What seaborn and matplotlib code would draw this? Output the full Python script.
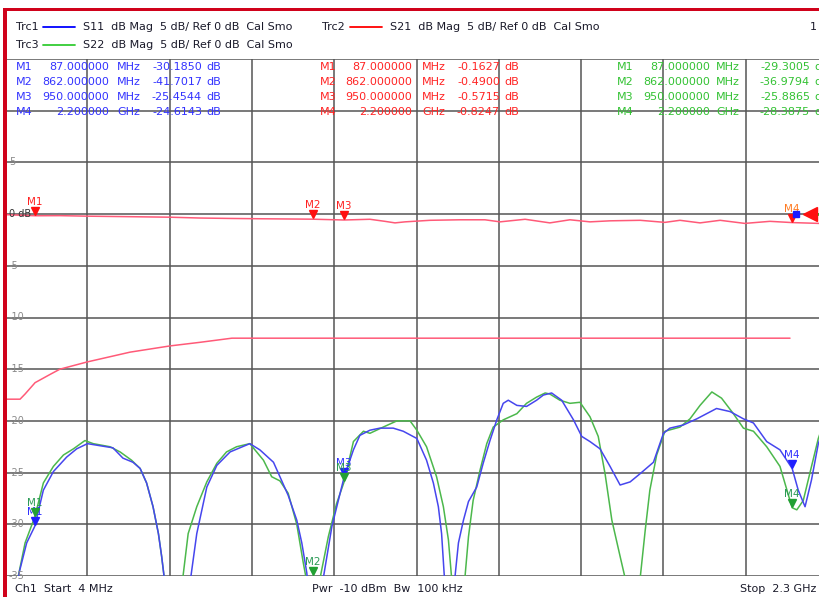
import numpy as np
import pandas as pd
import matplotlib
matplotlib.use("Agg")
import matplotlib.pyplot as plt
import seaborn as sns
from matplotlib.transforms import offset_copy, blended_transform_factory
from matplotlib.patches import Rectangle

# ---------------- data (MHz, dB) ----------------
s21_freq = [4, 88, 157, 233, 353, 464, 548, 632, 715, 860, 950, 1022, 1064, 1092, 1120,
            1190, 1273, 1343, 1385, 1455, 1524, 1580, 1636, 1692, 1776, 1845, 1887,
            1943, 1999, 2068, 2138, 2200, 2275, 2300]
s21_db = [-0.05, -0.16, -0.15, -0.2, -0.25, -0.3, -0.38, -0.42, -0.45, -0.49, -0.57, -0.5,
          -0.7, -0.85, -0.75, -0.6, -0.55, -0.55, -0.75, -0.5, -0.85, -0.55, -0.75, -0.65,
          -0.6, -0.8, -0.6, -0.85, -0.6, -0.9, -0.7, -0.82, -0.9, -0.85]

s21mem_freq = [4, 46, 60, 88, 130, 157, 233, 353, 464, 548, 637, 2194]
s21mem_db = [-17.9, -17.9, -17.4, -16.3, -15.5, -15.0, -14.3, -13.35, -12.75, -12.4, -12.0, -12.0]

s11_freq = [4, 30, 44, 64.5, 87, 111, 139, 176, 204, 234, 269, 305, 333, 361, 381, 399, 417,
            432, 441, 448, 460, 475, 500, 515, 522, 539, 567, 595, 632, 687, 715, 753, 771,
            794, 818, 832, 846, 862, 883, 892, 916, 950, 976, 994, 1022, 1050, 1087, 1115,
            1153, 1180, 1199, 1213, 1222, 1229, 1240, 1250, 1259, 1269, 1283, 1297, 1320,
            1338, 1357, 1376, 1394, 1408, 1432, 1459, 1487, 1506, 1529, 1557, 1590, 1613,
            1636, 1664, 1692, 1720, 1748, 1776, 1813, 1841, 1859, 1896, 1934, 1989, 2027,
            2064, 2092, 2129, 2166, 2200, 2217, 2236, 2254, 2273, 2300]
s11_db = [-40, -37.5, -34.6, -31.8, -30.2, -26.7, -24.9, -23.5, -22.7, -22.2, -22.4, -22.6,
          -23.6, -24.0, -24.6, -26.0, -28.3, -30.9, -33.1, -35.1, -40, -45, -40, -36.5, -35.2,
          -30.9, -26.4, -24.3, -23.0, -22.2, -22.8, -24.0, -25.4, -27.2, -29.6, -31.8, -34.7,
          -41.7, -38, -35.2, -30.2, -25.45, -22.8, -21.4, -20.9, -20.7, -20.7, -21.0, -21.7,
          -23.8, -26.0, -28.3, -30.9, -34.7, -40, -42, -35.2, -31.8, -29.6, -27.8, -26.4,
          -24.1, -21.9, -19.9, -18.3, -18.0, -18.5, -18.6, -18.0, -17.5, -17.3, -18.0,
          -19.9, -21.5, -22.0, -22.7, -24.4, -26.2, -25.9, -25.1, -24.0, -21.2, -20.7,
          -20.4, -19.8, -18.8, -19.1, -19.8, -20.2, -22.0, -22.8, -24.6, -26.7, -28.3,
          -25.7, -22.2, -19.5]

s22_freq = [4, 30, 40, 60, 87, 111, 139, 167, 195, 227, 250, 297, 325, 357, 381, 399, 417,
            432, 441, 448, 470, 495, 500, 515, 539, 567, 595, 622, 650, 687, 725, 748, 771,
            794, 818, 836, 844, 862, 883, 906, 929, 950, 976, 1004, 1022, 1059, 1097, 1134,
            1153, 1180, 1208, 1227, 1241, 1250, 1270, 1287, 1297, 1310, 1329, 1348, 1366,
            1394, 1432, 1459, 1487, 1511, 1524, 1552, 1580, 1608, 1636, 1659, 1678, 1697,
            1720, 1734, 1755, 1776, 1790, 1803, 1822, 1845, 1887, 1915, 1943, 1976, 2003,
            2036, 2064, 2092, 2129, 2166, 2194, 2200, 2213, 2231, 2254, 2273, 2300]
s22_db = [-40, -37.5, -35.2, -31.8, -29.3, -26.0, -24.4, -23.3, -22.7, -21.9, -22.2, -22.5,
          -23.0, -23.8, -24.6, -26.0, -28.3, -30.9, -33.1, -35.1, -44, -38, -35.2, -30.9,
          -28.3, -25.9, -24.1, -23.0, -22.5, -22.2, -23.8, -25.4, -25.8, -27.0, -30.0,
          -33.7, -35.2, -37.0, -35.2, -31.2, -28.0, -25.9, -22.0, -21.0, -21.2, -20.6,
          -20.0, -20.0, -20.9, -22.5, -25.4, -28.3, -31.5, -35.2, -42, -35.2, -31.2, -27.7,
          -24.8, -22.2, -20.6, -19.9, -19.3, -18.3, -17.7, -17.3, -17.4, -18.0, -18.3,
          -18.2, -19.6, -21.5, -25.1, -29.6, -33.1, -35.2, -42, -35.2, -30.6, -26.7, -23.3,
          -21.0, -20.6, -19.8, -18.5, -17.2, -17.8, -19.3, -20.7, -21.0, -22.5, -24.4,
          -27.7, -28.4, -28.6, -27.7, -24.4, -21.7, -19.0]

marker_names = ["M1", "M2", "M3", "M4"]
marker_freq = [87, 862, 950, 2200]
s11_marker_db = [-30.1850, -41.7017, -25.4544, -24.6143]
s21_marker_db = [-0.1627, -0.4900, -0.5715, -0.8247]
s22_marker_db = [-29.3005, -36.9794, -25.8865, -28.3875]

y_ticks = [15, 10, 5, 0, -5, -10, -15, -20, -25, -30, -35]
y_labels = ["", "", "5", "0 dB", "-5", "-10", "-15", "-20", "-25", "-30", "-35"]

start_mhz, stop_mhz = 4, 2300

# ---------------- styling ----------------
sns.set_theme(style="white")
plt.rcParams['font.family'] = ['DejaVu Sans']

W, H = 819, 597
fig = plt.figure(figsize=(W / 100, H / 100), dpi=100)
fig.patch.set_facecolor("white")

# plot area in pixels: x 5..828, y 59..576
ax = fig.add_axes([5 / W, 1 - 576 / H, 823 / W, (576 - 59) / H])
ax.set_xlim(start_mhz, stop_mhz)
ax.set_ylim(-35, 15)
ax.set_facecolor("white")
for s in ax.spines.values():
    s.set_visible(False)
ax.set_xticks(np.linspace(start_mhz, stop_mhz, 11))
ax.set_yticks(y_ticks)
ax.grid(True, color="#555555", linewidth=1.1)
ax.tick_params(left=False, bottom=False, labelleft=False, labelbottom=False)

C_BLUE = "#4646ee"
C_GREEN = "#4cb84c"
C_RED = "#ff5a78"

df = pd.concat([
    pd.DataFrame({"freq": s21mem_freq, "db": s21mem_db, "trace": "S21 mem"}),
    pd.DataFrame({"freq": s21_freq, "db": s21_db, "trace": "S21"}),
    pd.DataFrame({"freq": s22_freq, "db": s22_db, "trace": "S22"}),
    pd.DataFrame({"freq": s11_freq, "db": s11_db, "trace": "S11"}),
])
palette = {"S21 mem": C_RED, "S21": C_RED, "S22": C_GREEN, "S11": C_BLUE}
sns.lineplot(data=df, x="freq", y="db", hue="trace", palette=palette,
             estimator=None, sort=False, legend=False, linewidth=1.1, ax=ax)
ax.set_xlabel("")
ax.set_ylabel("")

# y labels inside the grid
btr = blended_transform_factory(ax.transAxes, ax.transData)
for v, lab in zip(y_ticks, y_labels):
    if not lab:
        continue
    col = "#333333" if v == 0 else "#8a8a8a"
    ax.text(4 / 823, v, lab, transform=btr, ha="left", va="center",
            fontsize=7, color=col, zorder=5)

# markers
tri_tr = offset_copy(ax.transData, fig=fig, y=3.5, units="points")


def draw_marker(f, v, color, lcolor, label):
    vv = max(v, -35)
    ax.plot([f], [vv], marker="v", ms=6, color=color, transform=tri_tr,
            clip_on=False, zorder=6)
    ax.annotate(label, (f, vv), xytext=(0, 6.5), textcoords="offset points",
                ha="center", va="bottom", color=lcolor, fontsize=7.5, zorder=6)


for name, f, v in zip(marker_names, marker_freq, s21_marker_db):
    draw_marker(f, v, "#ff1010", "#ff2020" if name != "M4" else "#ff7a20", name)
for name, f, v in zip(marker_names, marker_freq, s11_marker_db):
    if v < -35:
        continue
    draw_marker(f, v, "#2020ff", "#3030ff", name)
for name, f, v in zip(marker_names, marker_freq, s22_marker_db):
    draw_marker(f, v, "#22a033", "#2a9a55", name)

# reference level indicators at 0 dB (right edge)
ax.plot([2211], [0], marker="s", ms=5, color="#1a1aff", zorder=7)
ax.plot([2250], [0], marker="<", ms=10, color="#ff1010", zorder=7)
ax.plot([2290], [0], marker="<", ms=10, color="#22bb22", zorder=6)

# ---------------- texts ----------------
def ftext(px, py, s, **kw):
    kw.setdefault("va", "center")
    kw.setdefault("fontsize", 8)
    fig.text(px / W, 1 - py / H, s, **kw)


HDR = "#1a1a2a"
hdr_rest = "dB Mag  5 dB/ Ref 0 dB  Cal Smo"
ftext(16, 27, "Trc1", color=HDR)
ftext(83, 27, "S11  " + hdr_rest, color=HDR)
ftext(16, 45, "Trc3", color=HDR)
ftext(83, 45, "S22  " + hdr_rest, color=HDR)
ftext(322, 27, "Trc2", color=HDR)
ftext(390, 27, "S21  " + hdr_rest, color=HDR)
ftext(810, 27, "1", color=HDR)
fig.add_artist(plt.Line2D([43 / W, 75 / W], [1 - 27 / H] * 2, color="#0000ff", lw=1.3))
fig.add_artist(plt.Line2D([43 / W, 75 / W], [1 - 45 / H] * 2, color="#33cc33", lw=1.3))
fig.add_artist(plt.Line2D([350 / W, 382 / W], [1 - 27 / H] * 2, color="#ff0000", lw=1.3))


def freq_text(f):
    if f >= 1000:
        return f"{f / 1000:.6f}", "GHz"
    return f"{f:.6f}", "MHz"


row_y = [67, 82, 97, 112]
cols = [
    (s11_marker_db, "#3333ff", (16, 109, 117, 202, 206)),
    (s21_marker_db, "#ff2424", (320, 412, 422, 500, 504)),
    (s22_marker_db, "#33c233", (617, 710, 716, 810, 814)),
]
for vals, col, (xl, xf, xu, xv, xd) in cols:
    for name, f, v, yy in zip(marker_names, marker_freq, vals, row_y):
        num, unit = freq_text(f)
        ftext(xl, yy, name, color=col)
        ftext(xf, yy, num, color=col, ha="right")
        ftext(xu, yy, unit, color=col)
        ftext(xv, yy, f"{v:.4f}", color=col, ha="right")
        ftext(xd, yy, "dB", color=col)

ftext(15, 589, "Ch1  Start  4 MHz", color=HDR)
ftext(312, 589, "Pwr  -10 dBm  Bw  100 kHz", color=HDR)
ftext(740, 589, "Stop  2.3 GHz", color=HDR)

# red frame
fig.add_artist(Rectangle((3 / W, 0), 4 / W, 1 - 8 / H, transform=fig.transFigure,
                         color="#d0021b", lw=0, zorder=10))
fig.add_artist(Rectangle((3 / W, 1 - 11 / H), 1, 3 / H, transform=fig.transFigure,
                         color="#d0021b", lw=0, zorder=10))

fig.savefig("out.png", dpi=100)
